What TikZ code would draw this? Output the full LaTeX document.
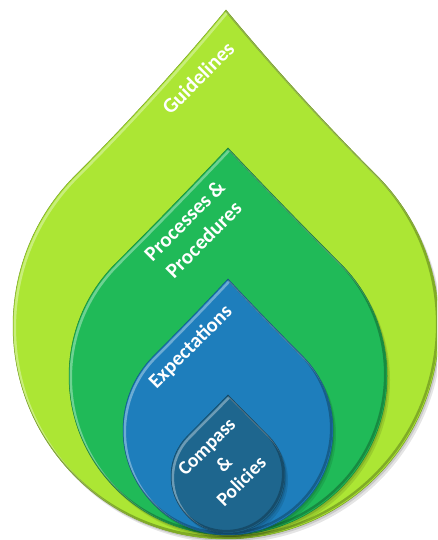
\documentclass[tikz,border=0pt]{standalone}
\usepackage{fontspec}
\setmainfont{Carlito}
\usetikzlibrary{shadows}
\definecolor{lime}{RGB}{172,230,52}
\definecolor{leaf}{RGB}{32,186,88}
\definecolor{sea}{RGB}{30,126,188}
\definecolor{deep}{RGB}{30,102,142}
% teardrop path: centre x, centre y, radius, tip factor
\newcommand\dropspec[4]{%
  ({#1-#3*0.70711},{#2+#3*0.70711})
  .. controls ({#1-#3*0.70711+#4*#3*0.70711/3},{#2+#3*0.70711+#4*#3*0.70711/3})
  and ({#1+(#4-2)/3*#3*0.70711},{#2+(#4+2/3)*#3*0.70711})
  .. ({#1},{#2+2*#4*#3*0.70711})
  .. controls ({#1+(2-#4)/3*#3*0.70711},{#2+(#4+2/3)*#3*0.70711})
  and ({#1+#3*0.70711-#4*#3*0.70711/3},{#2+#3*0.70711+#4*#3*0.70711/3})
  .. ({#1+#3*0.70711},{#2+#3*0.70711})
  arc[start angle=45,end angle=-225,radius=#3] -- cycle}
\newcommand\drawdrop[5]{%
  \fill[black,opacity=0.10] \dropspec{#1+3}{#2-4}{#3}{#4};
  \fill[black,opacity=0.12] \dropspec{#1+1.5}{#2-2}{#3}{#4};
  \fill[#5] \dropspec{#1}{#2}{#3}{#4};
  \begin{scope}
    \clip \dropspec{#1}{#2}{#3}{#4};
    \draw[white,opacity=0.35,line width=2.5pt] \dropspec{#1+1.8}{#2-1.8}{#3}{#4};
    \draw[black,opacity=0.25,line width=2.5pt] \dropspec{#1-1.8}{#2+1.8}{#3}{#4};
  \end{scope}
  \draw[#5!70!black,line width=0.5pt] \dropspec{#1}{#2}{#3}{#4};}
\tikzset{
  droplabel/.style={text=white,font=\bfseries\fontsize{#1}{#1*1.27}\selectfont,
    rotate=45,align=center,inner sep=0pt},
  droplabel/.default=20
}
\begin{document}
\begin{tikzpicture}[x=1pt,y=1pt]
\useasboundingbox (0,0) rectangle (437,540);
\clip (0,0) rectangle (437,540);
\fill[white] (0,0) rectangle (437,540);
\drawdrop{226}{214}{213}{1.049}{lime}
\drawdrop{228}{164}{159}{1.014}{leaf}
\drawdrop{228}{110}{105}{1.017}{sea}
\drawdrop{228}{64}{57}{1.005}{deep}
\node[text=white,rotate=45,align=center,inner sep=0pt,font=\bfseries\fontsize{21}{27}\selectfont] (guide) at (198,462) {Guidelines};
\node[text=white,rotate=45,align=center,inner sep=0pt,font=\bfseries\fontsize{21}{27}\selectfont] (proc) at (194,310) {Processes \&\\Procedures};
\node[text=white,rotate=45,align=center,inner sep=0pt,font=\bfseries\fontsize{20.5}{26}\selectfont] (expect) at (191,193) {Expectations};
\node[text=white,rotate=45,align=center,inner sep=0pt,font=\bfseries\fontsize{19.5}{24.5}\selectfont] (compass) at (224,76) {Compass\\\&\\Policies};
\end{tikzpicture}
\end{document}
